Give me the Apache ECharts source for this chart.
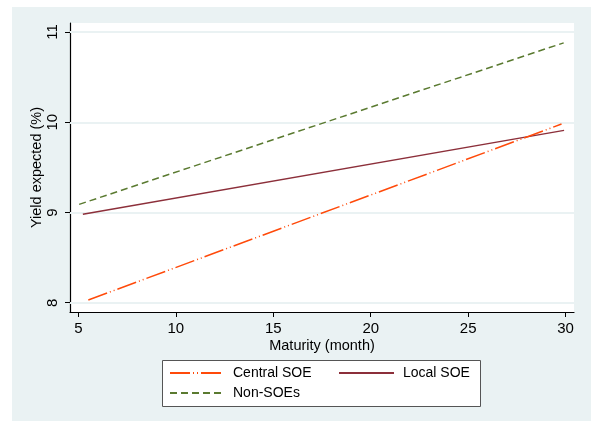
<!DOCTYPE html>
<html><head><meta charset="utf-8">
<script src="https://cdn.jsdelivr.net/npm/echarts@6/dist/echarts.min.js"></script>
<style>html,body{margin:0;padding:0;background:#fff;}#c{width:591px;height:421px;}</style>
</head><body><div id="c"></div>
<script>
const xTicks = [5, 10, 15, 20, 25, 30];
const yTicks = [8, 9, 10, 11];
const seriesNames = ['Central SOE', 'Local SOE', 'Non-SOEs'];
const centralX = [5.51, 29.79];
const centralY = [8.03, 9.98];
const localX = [5.23, 29.92];
const localY = [8.98, 9.91];
const nonX = [5.04, 29.9];
const nonY = [9.09, 10.88];

const pairs = (xs, ys) => xs.map((x, i) => [x, ys[i]]);
const font = "'Liberation Sans', Arial, Helvetica, sans-serif";
const legendBase = {padding: 0, itemHeight: 14, itemStyle: {opacity: 0, borderWidth: 0}};
const chart = echarts.init(document.getElementById('c'), null, {renderer: 'canvas'});
chart.setOption({
  animation: false,
  backgroundColor: '#ffffff',
  textStyle: {fontFamily: font, color: '#000'},
  graphic: [
    {type: 'rect', z: -10, silent: true, shape: {x: 12, y: 7, width: 579, height: 414}, style: {fill: '#EAF2F3'}},
    {type: 'rect', z: 1, silent: true, shape: {x: 162.5, y: 360.5, width: 318, height: 46}, style: {fill: '#fff', stroke: '#555', lineWidth: 1}}
  ],
  grid: {left: 70, right: 17, top: 23, bottom: 109, show: true, backgroundColor: '#fff', borderWidth: 0},
  xAxis: {
    type: 'value', min: 4.57, max: 30.43,
    name: 'Maturity (month)', nameLocation: 'middle', nameGap: 26, nameMoveOverlap: false,
    nameTextStyle: {fontSize: 14.5, fontFamily: font, color: '#000'},
    axisLine: {show: true, onZero: false, lineStyle: {color: '#000', width: 1.2}},
    axisTick: {show: true, length: 5, lineStyle: {color: '#000', width: 1}, customValues: xTicks},
    axisLabel: {fontSize: 15, color: '#000', margin: 9, fontFamily: font, customValues: xTicks},
    splitLine: {show: false}
  },
  yAxis: {
    type: 'value', min: 7.897, max: 11.1,
    name: 'Yield expected (%)', nameLocation: 'middle', nameGap: 26, nameMoveOverlap: false,
    nameTextStyle: {fontSize: 14.5, fontFamily: font, color: '#000'},
    axisLine: {show: true, onZero: false, lineStyle: {color: '#000', width: 1.2}},
    axisTick: {show: true, length: 5, lineStyle: {color: '#000', width: 1}, customValues: yTicks},
    axisLabel: {fontSize: 15, color: '#000', margin: 10, rotate: 90, fontFamily: font, customValues: yTicks},
    splitLine: {show: false}
  },
  legend: [
    Object.assign({left: 169, top: 366, itemWidth: 53, data: [seriesNames[0]], textStyle: {fontSize: 14, fontFamily: font, color: '#000', padding: [0, 0, 0, 5]}}, legendBase),
    Object.assign({left: 338, top: 366, itemWidth: 55, data: [seriesNames[1]], textStyle: {fontSize: 14, fontFamily: font, color: '#000', padding: [0, 0, 0, 4]}}, legendBase),
    Object.assign({left: 169, top: 386, itemWidth: 53, data: [seriesNames[2]], textStyle: {fontSize: 14, fontFamily: font, color: '#000', padding: [0, 0, 0, 5]}}, legendBase)
  ],
  series: [
    {
      name: seriesNames[0], type: 'line', data: pairs(centralX, centralY), symbol: 'none', z: 5,
      lineStyle: {color: '#FF4A0A', width: 1.5, type: [20, 3, 1, 3, 1, 3]}, itemStyle: {color: '#FF4A0A'},
      markLine: {silent: true, symbol: 'none', z: 1, label: {show: false}, lineStyle: {color: '#EAF2F3', width: 2, type: 'solid'},
        data: yTicks.map(v => ({yAxis: v}))}
    },
    {
      name: seriesNames[1], type: 'line', data: pairs(localX, localY), symbol: 'none', z: 4,
      lineStyle: {color: '#8C2F3A', width: 1.5, type: 'solid'}, itemStyle: {color: '#8C2F3A'}
    },
    {
      name: seriesNames[2], type: 'line', data: pairs(nonX, nonY), symbol: 'none', z: 4,
      lineStyle: {color: '#5A7A30', width: 1.5, type: [7, 4]}, itemStyle: {color: '#5A7A30'}
    }
  ]
});
</script></body></html>
